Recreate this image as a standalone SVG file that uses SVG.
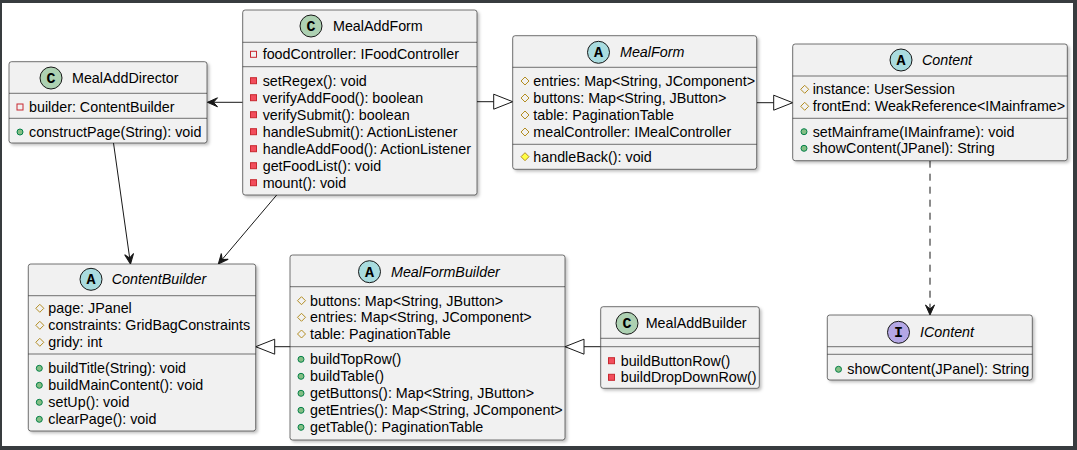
<svg xmlns="http://www.w3.org/2000/svg" xmlns:xlink="http://www.w3.org/1999/xlink" width="1077" height="450" viewBox="0 0 1077 450">
<style>
.box{fill:#F1F1F1;stroke:#181818;stroke-width:0.6;filter:url(#sh)}
.sep{stroke:#181818;stroke-width:0.6}
.t{font-family:"Liberation Sans",Arial,sans-serif;font-size:14.3px;fill:#000}
.ti{font-family:"Liberation Sans",Arial,sans-serif;font-size:14.3px;font-style:italic;fill:#000}
.ic{stroke:#181818;stroke-width:1}
.il{font-family:"Liberation Mono","Courier New",monospace;font-size:15px;font-weight:bold;fill:#000;text-anchor:middle}
.ln{stroke:#181818;stroke-width:1;fill:none}
.dash{stroke-dasharray:7,6}
</style>
<defs>
<filter id="sh" x="-5%" y="-5%" width="115%" height="115%">
<feDropShadow dx="2" dy="2" stdDeviation="1.5" flood-color="#000" flood-opacity="0.25"/>
</filter>
<rect id="prf" x="-3" y="-3" width="6" height="6" fill="none" stroke="#C82930" stroke-width="1"/>
<rect id="prm" x="-3" y="-3" width="6" height="6" fill="#F24D5C" stroke="#C82930" stroke-width="1"/>
<polygon id="pof" points="0,-4 4,0 0,4 -4,0" fill="none" stroke="#B38D22" stroke-width="1"/>
<polygon id="pom" points="0,-4 4,0 0,4 -4,0" fill="#FFFF44" stroke="#B38D22" stroke-width="1"/>
<circle id="pum" r="3" fill="#84BE84" stroke="#038048" stroke-width="1"/>
<marker id="vee" markerUnits="userSpaceOnUse" markerWidth="14" markerHeight="12" refX="12" refY="6" orient="auto" overflow="visible">
<path d="M12,6 L2,1.5 L6,6 L2,10.5 Z" fill="#181818" stroke="#181818" stroke-width="1"/>
</marker>
<marker id="tri" markerUnits="userSpaceOnUse" markerWidth="22" markerHeight="18" refX="20" refY="8" orient="auto" overflow="visible">
<path d="M20,8 L1,0.5 L1,15.5 Z" fill="#FFFFFF" stroke="#181818" stroke-width="1"/>
</marker>
</defs>
<rect x="0" y="0" width="1077" height="450" fill="#383C3F"/>
<rect x="2" y="3" width="1071" height="443" fill="#FFFFFF"/>

<g id="connectors">
<line class="ln" x1="242.7" y1="102.3" x2="207.5" y2="102.3" marker-end="url(#vee)"/>
<line class="ln" x1="477" y1="101.7" x2="512.7" y2="101.7" marker-end="url(#tri)"/>
<line class="ln" x1="756.7" y1="102.7" x2="792.7" y2="102.7" marker-end="url(#tri)"/>
<line class="ln" x1="113.5" y1="143" x2="130.5" y2="264" marker-end="url(#vee)"/>
<line class="ln" x1="276.7" y1="195" x2="218.3" y2="264" marker-end="url(#vee)"/>
<line class="ln" x1="290" y1="346.7" x2="255.7" y2="346.7" marker-end="url(#tri)"/>
<line class="ln" x1="600.7" y1="346.7" x2="565" y2="346.7" marker-end="url(#tri)"/>
<line class="ln dash" x1="930" y1="160.7" x2="930" y2="315" marker-end="url(#vee)"/>
</g>

<g id="MealAddDirector">
<rect class="box" x="9" y="61.7" width="198" height="81.3" rx="2.5"/>
<line class="sep" x1="9" y1="93.3" x2="207" y2="93.3"/>
<line class="sep" x1="9" y1="118.3" x2="207" y2="118.3"/>
<circle class="ic" cx="51" cy="78" r="11" fill="#ADD1B2"/>
<text class="il" x="51" y="83">C</text>
<text class="t" x="72" y="83">MealAddDirector</text>
<use xlink:href="#prf" x="20" y="107"/>
<text class="t" x="29" y="112">builder: ContentBuilder</text>
<use xlink:href="#pum" x="20" y="132"/>
<text class="t" x="29" y="137">constructPage(String): void</text>
</g>

<g id="MealAddForm">
<rect class="box" x="242.7" y="10" width="234.3" height="185" rx="2.5"/>
<line class="sep" x1="242.7" y1="42.3" x2="477" y2="42.3"/>
<line class="sep" x1="242.7" y1="66.7" x2="477" y2="66.7"/>
<circle class="ic" cx="311" cy="26" r="11" fill="#ADD1B2"/>
<text class="il" x="311" y="31">C</text>
<text class="t" x="333" y="31">MealAddForm</text>
<use xlink:href="#prf" x="253.5" y="54.3"/>
<text class="t" x="262.7" y="59.3">foodController: IFoodController</text>
<use xlink:href="#prm" x="253.5" y="80.7"/>
<text class="t" x="262.7" y="85.7">setRegex(): void</text>
<use xlink:href="#prm" x="253.5" y="97.7"/>
<text class="t" x="262.7" y="102.7">verifyAddFood(): boolean</text>
<use xlink:href="#prm" x="253.5" y="114.7"/>
<text class="t" x="262.7" y="119.7">verifySubmit(): boolean</text>
<use xlink:href="#prm" x="253.5" y="131.7"/>
<text class="t" x="262.7" y="136.7">handleSubmit(): ActionListener</text>
<use xlink:href="#prm" x="253.5" y="148.7"/>
<text class="t" x="262.7" y="153.7">handleAddFood(): ActionListener</text>
<use xlink:href="#prm" x="253.5" y="165.7"/>
<text class="t" x="262.7" y="170.7">getFoodList(): void</text>
<use xlink:href="#prm" x="253.5" y="182.7"/>
<text class="t" x="262.7" y="187.7">mount(): void</text>
</g>

<g id="MealForm">
<rect class="box" x="512.7" y="35.7" width="244" height="133.6" rx="2.5"/>
<line class="sep" x1="512.7" y1="67.3" x2="756.7" y2="67.3"/>
<line class="sep" x1="512.7" y1="144.3" x2="756.7" y2="144.3"/>
<circle class="ic" cx="598.5" cy="52.3" r="11" fill="#A9DCDF"/>
<text class="il" x="598.5" y="57.3">A</text>
<text class="ti" x="620" y="57.3">MealForm</text>
<use xlink:href="#pof" x="525" y="81"/>
<text class="t" x="533.3" y="86">entries: Map&lt;String, JComponent&gt;</text>
<use xlink:href="#pof" x="525" y="98"/>
<text class="t" x="533.3" y="103">buttons: Map&lt;String, JButton&gt;</text>
<use xlink:href="#pof" x="525" y="115"/>
<text class="t" x="533.3" y="120">table: PaginationTable</text>
<use xlink:href="#pof" x="525" y="132"/>
<text class="t" x="533.3" y="137">mealController: IMealController</text>
<use xlink:href="#pom" x="525" y="156.7"/>
<text class="t" x="533.3" y="161.7">handleBack(): void</text>
</g>

<g id="Content">
<rect class="box" x="792.7" y="44" width="274.6" height="116.7" rx="2.5"/>
<line class="sep" x1="792.7" y1="76" x2="1067.3" y2="76"/>
<line class="sep" x1="792.7" y1="118.3" x2="1067.3" y2="118.3"/>
<circle class="ic" cx="901" cy="60" r="11" fill="#A9DCDF"/>
<text class="il" x="901" y="65">A</text>
<text class="ti" x="922" y="65">Content</text>
<use xlink:href="#pof" x="804.7" y="89.3"/>
<text class="t" x="812.7" y="94.3">instance: UserSession</text>
<use xlink:href="#pof" x="804.7" y="106.3"/>
<text class="t" x="812.7" y="111.3">frontEnd: WeakReference&lt;IMainframe&gt;</text>
<use xlink:href="#pum" x="804" y="131.7"/>
<text class="t" x="812.7" y="136.7">setMainframe(IMainframe): void</text>
<use xlink:href="#pum" x="804" y="148.3"/>
<text class="t" x="812.7" y="153.3">showContent(JPanel): String</text>
</g>

<g id="ContentBuilder">
<rect class="box" x="28.3" y="264" width="227.4" height="167" rx="2.5"/>
<line class="sep" x1="28.3" y1="295.7" x2="255.7" y2="295.7"/>
<line class="sep" x1="28.3" y1="354" x2="255.7" y2="354"/>
<circle class="ic" cx="91" cy="279.3" r="11" fill="#A9DCDF"/>
<text class="il" x="91" y="284.3">A</text>
<text class="ti" x="111.7" y="284.3">ContentBuilder</text>
<use xlink:href="#pof" x="39.8" y="308.3"/>
<text class="t" x="48.3" y="313.3">page: JPanel</text>
<use xlink:href="#pof" x="39.8" y="325.3"/>
<text class="t" x="48.3" y="330.3">constraints: GridBagConstraints</text>
<use xlink:href="#pof" x="39.8" y="342.3"/>
<text class="t" x="48.3" y="347.3">gridy: int</text>
<use xlink:href="#pum" x="39.3" y="368.3"/>
<text class="t" x="48.3" y="373.3">buildTitle(String): void</text>
<use xlink:href="#pum" x="39.3" y="385.3"/>
<text class="t" x="48.3" y="390.3">buildMainContent(): void</text>
<use xlink:href="#pum" x="39.3" y="402.3"/>
<text class="t" x="48.3" y="407.3">setUp(): void</text>
<use xlink:href="#pum" x="39.3" y="419.3"/>
<text class="t" x="48.3" y="424.3">clearPage(): void</text>
</g>

<g id="MealFormBuilder">
<rect class="box" x="290" y="255" width="275" height="185" rx="2.5"/>
<line class="sep" x1="290" y1="286.7" x2="565" y2="286.7"/>
<line class="sep" x1="290" y1="346.7" x2="565" y2="346.7"/>
<circle class="ic" cx="369.5" cy="271.7" r="11" fill="#A9DCDF"/>
<text class="il" x="369.5" y="276.7">A</text>
<text class="ti" x="391" y="276.7">MealFormBuilder</text>
<use xlink:href="#pof" x="301.5" y="300.7"/>
<text class="t" x="310" y="305.7">buttons: Map&lt;String, JButton&gt;</text>
<use xlink:href="#pof" x="301.5" y="317.3"/>
<text class="t" x="310" y="322.3">entries: Map&lt;String, JComponent&gt;</text>
<use xlink:href="#pof" x="301.5" y="334"/>
<text class="t" x="310" y="339">table: PaginationTable</text>
<use xlink:href="#pum" x="301" y="359.3"/>
<text class="t" x="310" y="364.3">buildTopRow()</text>
<use xlink:href="#pum" x="301" y="376.3"/>
<text class="t" x="310" y="381.3">buildTable()</text>
<use xlink:href="#pum" x="301" y="393.3"/>
<text class="t" x="310" y="398.3">getButtons(): Map&lt;String, JButton&gt;</text>
<use xlink:href="#pum" x="301" y="410.3"/>
<text class="t" x="310" y="415.3">getEntries(): Map&lt;String, JComponent&gt;</text>
<use xlink:href="#pum" x="301" y="427.3"/>
<text class="t" x="310" y="432.3">getTable(): PaginationTable</text>
</g>

<g id="MealAddBuilder">
<rect class="box" x="600.7" y="306.7" width="158.6" height="81.6" rx="2.5"/>
<line class="sep" x1="600.7" y1="338.3" x2="759.3" y2="338.3"/>
<line class="sep" x1="600.7" y1="346.7" x2="759.3" y2="346.7"/>
<circle class="ic" cx="627" cy="323.3" r="11" fill="#ADD1B2"/>
<text class="il" x="627" y="328.3">C</text>
<text class="t" x="645.7" y="328.3">MealAddBuilder</text>
<use xlink:href="#prm" x="611.5" y="360.7"/>
<text class="t" x="620.7" y="365.7">buildButtonRow()</text>
<use xlink:href="#prm" x="611.5" y="377.3"/>
<text class="t" x="620.7" y="382.3">buildDropDownRow()</text>
</g>

<g id="IContent">
<rect class="box" x="827.3" y="315" width="205" height="65" rx="2.5"/>
<line class="sep" x1="827.3" y1="346.7" x2="1032.3" y2="346.7"/>
<line class="sep" x1="827.3" y1="354.3" x2="1032.3" y2="354.3"/>
<circle class="ic" cx="898.5" cy="332.3" r="11" fill="#B4A7E5"/>
<text class="il" x="898.5" y="337.3">I</text>
<text class="ti" x="920" y="337.3">IContent</text>
<use xlink:href="#pum" x="838.5" y="369.3"/>
<text class="t" x="847.3" y="374.3">showContent(JPanel): String</text>
</g>
</svg>
